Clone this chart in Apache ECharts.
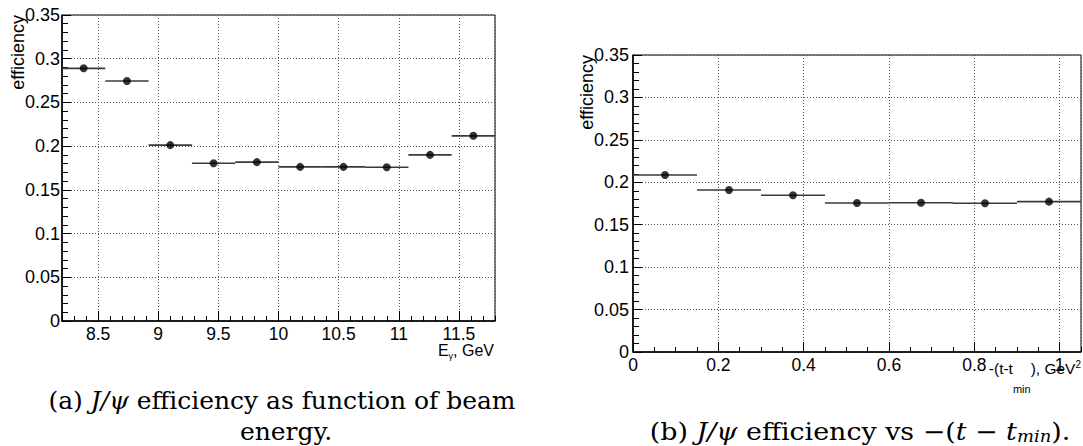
<!DOCTYPE html>
<html>
<head>
<meta charset="utf-8">
<script src="https://cdn.jsdelivr.net/npm/echarts@6/dist/echarts.min.js"></script>
<style>
  html, body { margin: 0; padding: 0; background: #fff; }
  #chart { width: 1083px; height: 446px; }
</style>
</head>
<body>
<div id="chart"></div>
<script>
// ---- data ----
const leftBinEdges   = [8.2, 8.56, 8.92, 9.28, 9.64, 10.0, 10.36, 10.72, 11.08, 11.44, 11.8];
const leftBinCenters = [8.38, 8.74, 9.10, 9.46, 9.82, 10.18, 10.54, 10.90, 11.26, 11.62];
const leftEfficiency = [0.289, 0.2745, 0.2012, 0.1805, 0.1817, 0.1763, 0.1763, 0.1758, 0.190, 0.2118];

const rightBinEdges   = [0, 0.15, 0.30, 0.45, 0.60, 0.75, 0.90, 1.05];
const rightBinCenters = [0.075, 0.225, 0.375, 0.525, 0.675, 0.825, 0.975];
const rightEfficiency = [0.2086, 0.1909, 0.1847, 0.1756, 0.1759, 0.1753, 0.1772];

const leftXRange  = [8.2, 11.8];
const rightXRange = [0, 1.05];
const yRange      = [0, 0.35];

const yAxisTitle  = 'efficiency';
const captionA1   = ['(a) ', 'J/ψ', ' efficiency as function of beam'];
const captionA2   = 'energy.';

// ---- styling helpers ----
const SANS = 'Liberation Sans';
const SERIF = 'DejaVu Serif';
const gridLine = { show: true, lineStyle: { color: '#555', width: 1, type: [1, 2] } };

function mainX(gi, range, extra) {
  return Object.assign({
    gridIndex: gi, type: 'value', position: 'bottom',
    min: range[0], max: range[1],
    axisLine: { show: true, onZero: false, lineStyle: { color: '#000', width: 1.5 } },
    axisTick: { show: true, inside: true, length: 10, lineStyle: { color: '#000', width: 1 } },
    axisLabel: { show: true, color: '#000', fontFamily: SANS, fontSize: 17.5, margin: 4,
                 showMinLabel: gi === 1, showMaxLabel: false },
    splitLine: gridLine
  }, extra);
}
function minorX(gi, range, step) {
  return {
    gridIndex: gi, type: 'value', position: 'bottom',
    min: range[0], max: range[1], interval: step,
    axisLine: { show: false },
    axisTick: { show: true, inside: true, length: 5, lineStyle: { color: '#000', width: 1 } },
    axisLabel: { show: false },
    splitLine: { show: false }
  };
}
function yAx(gi, margin) {
  return {
    gridIndex: gi, type: 'value', min: yRange[0], max: yRange[1], interval: 0.05,
    axisLine: { show: true, onZero: false, lineStyle: { color: '#000', width: 1.5 } },
    axisTick: { show: true, inside: true, length: 9, lineStyle: { color: '#000', width: 1 } },
    minorTick: { show: true, splitNumber: 5, length: 6, lineStyle: { color: '#000', width: 1 } },
    axisLabel: { color: '#000', fontFamily: SANS, fontSize: 18, margin: margin },
    splitLine: gridLine
  };
}

function binLines(xi, yi, edges, values) {
  return {
    type: 'custom', xAxisIndex: xi, yAxisIndex: yi, z: 2, clip: true,
    encode: { x: [0, 1], y: 2 },
    data: values.map((v, i) => [edges[i], edges[i + 1], v]),
    renderItem: function (params, api) {
      const p1 = api.coord([api.value(0), api.value(2)]);
      const p2 = api.coord([api.value(1), api.value(2)]);
      return { type: 'line', shape: { x1: p1[0], y1: p1[1], x2: p2[0], y2: p2[1] },
               style: { stroke: '#3a3a3a', lineWidth: 1.6 } };
    }
  };
}
function points(xi, yi, centers, values) {
  return {
    type: 'scatter', xAxisIndex: xi, yAxisIndex: yi, z: 3,
    symbol: 'circle', symbolSize: 8,
    itemStyle: { color: '#000' },
    data: values.map((v, i) => [centers[i], v])
  };
}

const chart = echarts.init(document.getElementById('chart'), null, { renderer: 'svg' });
chart.setOption({
  backgroundColor: '#fff',
  animation: false,
  grid: [
    { left: 62, top: 15, width: 433, height: 306, show: true, borderColor: '#000', borderWidth: 1, backgroundColor: 'transparent' },
    { left: 633, top: 55, width: 448, height: 297, show: true, borderColor: '#000', borderWidth: 1, backgroundColor: 'transparent' }
  ],
  xAxis: [
    mainX(0, leftXRange, { splitNumber: 7 }),
    minorX(0, leftXRange, 0.1),
    mainX(1, rightXRange, { interval: 0.2 }),
    minorX(1, rightXRange, 0.05)
  ],
  yAxis: [ yAx(0, 2), yAx(1, 4) ],
  series: [
    binLines(0, 0, leftBinEdges, leftEfficiency),
    points(0, 0, leftBinCenters, leftEfficiency),
    binLines(2, 1, rightBinEdges, rightEfficiency),
    points(2, 1, rightBinCenters, rightEfficiency)
  ],
  graphic: [
    // y-axis titles
    { type: 'text', x: 18, y: 15, rotation: Math.PI / 2,
      style: { text: yAxisTitle, align: 'right', verticalAlign: 'middle', fontFamily: SANS, fontSize: 18, fill: '#000' } },
    { type: 'text', x: 587, y: 55, rotation: Math.PI / 2,
      style: { text: yAxisTitle, align: 'right', verticalAlign: 'middle', fontFamily: SANS, fontSize: 18, fill: '#000' } },
    // x-axis titles
    { type: 'text', x: 494, y: 340,
      style: { text: '{n|E}{s|γ}{n|, GeV}', align: 'right', verticalAlign: 'top', fill: '#000',
        rich: {
          n: { fontFamily: SANS, fontSize: 16, lineHeight: 16, verticalAlign: 'top', padding: [2, 0, 0, 0] },
          s: { fontFamily: SANS, fontSize: 9, lineHeight: 9, verticalAlign: 'top', padding: [11, 0, 0, 0] }
        } } },
    { type: 'text', x: 1081, y: 358,
      style: { text: '{n|-(t-t}{s|min}{n|), GeV}{p|2}', align: 'right', verticalAlign: 'top', fill: '#000',
        rich: {
          n: { fontFamily: SANS, fontSize: 15.5, lineHeight: 15, verticalAlign: 'top', padding: [2, 0, 0, 0] },
          s: { fontFamily: SANS, fontSize: 11, lineHeight: 11, verticalAlign: 'top', padding: [25, 0, 0, 0] },
          p: { fontFamily: SANS, fontSize: 10, lineHeight: 10, verticalAlign: 'top', padding: [1, 0, 0, 0] }
        } } },
    // captions
    { type: 'text', x: 282, y: 401, scaleX: 1.04,
      style: { text: '{r|' + captionA1[0] + '}{i|' + captionA1[1] + '}{r|' + captionA1[2] + '}',
        align: 'center', verticalAlign: 'middle', fill: '#000',
        rich: {
          r: { fontFamily: SERIF, fontSize: 24, lineHeight: 24 },
          i: { fontFamily: SERIF, fontSize: 24, lineHeight: 24, fontStyle: 'italic' }
        } } },
    { type: 'text', x: 286, y: 432, scaleX: 1.04,
      style: { text: captionA2, align: 'center', verticalAlign: 'middle', fill: '#000', fontFamily: SERIF, fontSize: 24, lineHeight: 24 } },
    { type: 'text', x: 860, y: 432, scaleX: 1.12,
      style: { text: '{r|(b) }{i|J/ψ}{r| efficiency vs −(}{i|t}{r| − }{i|t}{is|min}{r|).}',
        align: 'center', verticalAlign: 'middle', fill: '#000',
        rich: {
          r: { fontFamily: SERIF, fontSize: 24, lineHeight: 24 },
          i: { fontFamily: SERIF, fontSize: 24, lineHeight: 24, fontStyle: 'italic' },
          is: { fontFamily: SERIF, fontSize: 16, lineHeight: 16, fontStyle: 'italic', verticalAlign: 'bottom', padding: [6, 0, 0, 0] }
        } } }
  ]
});
</script>
</body>
</html>
